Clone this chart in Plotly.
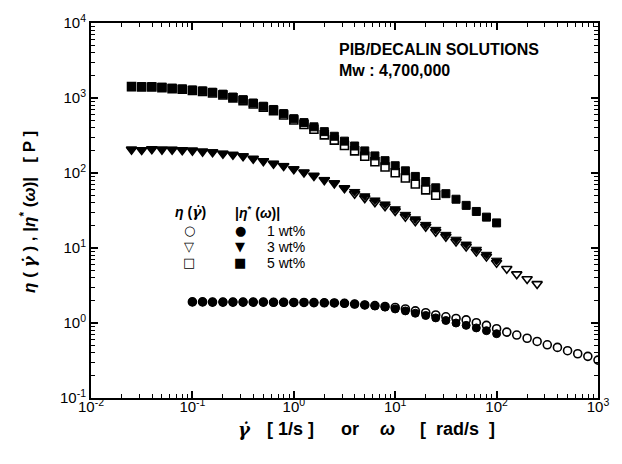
import plotly.graph_objects as go

# shear rate / angular frequency grid (0.1-decade steps), shared by all series
rate_grid = [0.0251, 0.0316, 0.0398, 0.0501, 0.0631, 0.0794, 0.1, 0.126, 0.158, 0.2,
             0.251, 0.316, 0.398, 0.501, 0.631, 0.794, 1.0, 1.26, 1.58, 2.0,
             2.51, 3.16, 3.98, 5.01, 6.31, 7.94, 10, 12.6, 15.8, 20,
             25.1, 31.6, 39.8, 50.1, 63.1, 79.4, 100, 126, 158, 200,
             251, 316, 398, 501, 631, 794, 1000]

# 5 wt%
x_5_dyn = rate_grid[0:37]
eta5_dyn = [1420, 1420, 1420, 1390, 1350, 1320, 1280, 1245, 1195, 1125,
            1030, 950, 858, 777, 703, 620, 530, 470, 413, 356,
            309, 266, 229, 197, 169, 146, 125, 107, 90, 77,
            63.5, 53, 44.7, 37.0, 30.7, 25.8, 21.6]
x_5_ss = rate_grid[0:31]
eta5_ss = [1420, 1400, 1400, 1375, 1334, 1307, 1257, 1220, 1166, 1098,
           1003, 922, 833, 754, 679, 593, 510, 443, 383, 322,
           274, 233, 197, 167, 141, 120.5, 100.6, 85.8, 71.2, 59.5, 50.4]

# 3 wt%
x_3_dyn = rate_grid[0:37]
eta3_dyn = [207, 204, 210, 207, 207, 204, 201, 195, 191, 182,
            176.5, 169, 156.5, 145.6, 134.7, 125.3, 113.4, 102.7, 92.8, 81.5,
            73.8, 63.5, 56.3, 49.3, 43.4, 38.4, 33.1, 27.9, 24.3, 20.5,
            17.6, 15.1, 13.0, 11.2, 9.56, 8.18, 6.83]
x_3_ss = rate_grid[0:41]
eta3_ss = [205, 203, 207, 205, 204, 201, 199, 193, 189, 181,
           175, 167, 155, 144, 133, 124, 112, 101.5, 91.5, 80.5,
           72.8, 62.5, 52.9, 46.3, 40.8, 36.1, 31.1, 26.2, 22.8, 19.3,
           16.5, 14.2, 12.2, 10.5, 8.99, 7.69, 6.35, 5.29, 4.48, 3.86, 3.32]

# 1 wt%
x_1_dyn = rate_grid[6:37]
eta1_dyn = [1.91, 1.91, 1.90, 1.90, 1.90, 1.90, 1.90, 1.90, 1.89, 1.89,
            1.88, 1.88, 1.87, 1.86, 1.85, 1.83, 1.79, 1.74, 1.69, 1.63,
            1.54, 1.45, 1.35, 1.26, 1.17, 1.08, 1.00, 0.93, 0.86, 0.79, 0.72]
x_1_ss = rate_grid[6:47]
eta1_ss = [1.91, 1.91, 1.90, 1.90, 1.90, 1.90, 1.90, 1.90, 1.89, 1.89,
           1.88, 1.88, 1.87, 1.86, 1.85, 1.83, 1.79, 1.74, 1.71, 1.66,
           1.61, 1.54, 1.45, 1.37, 1.28, 1.21, 1.15, 1.10, 1.01, 0.93,
           0.84, 0.756, 0.691, 0.626, 0.567, 0.512, 0.473, 0.427, 0.389, 0.359, 0.320]

x_tickvals = [0.01, 0.1, 1, 10, 100, 1000]
x_ticktext = ["10<sup>-2</sup>", "10<sup>-1</sup>", "10<sup>0</sup>", "10<sup>1</sup>",
              "10<sup>2</sup>", "10<sup>3</sup>"]
y_tickvals = [0.1, 1, 10, 100, 1000, 10000]
y_ticktext = ["10<sup>-1</sup>", "10<sup>0</sup>", "10<sup>1</sup>", "10<sup>2</sup>",
              "10<sup>3</sup>", "10<sup>4</sup>"]

FONT = "Liberation Sans, Arial, sans-serif"
GAMMADOT = "<span style=\"font-family:'DejaVu Serif'\"><i>γ̇</i></span>"

fig = go.Figure()

def open_trace(x, y, sym, size):
    return go.Scatter(x=x, y=y, mode="markers",
                      marker=dict(symbol=sym, size=size, color="white",
                                  line=dict(color="black", width=1.6)))

def filled_trace(x, y, sym, size):
    return go.Scatter(x=x, y=y, mode="markers",
                      marker=dict(symbol=sym, size=size, color="black",
                                  line=dict(color="black", width=1)))

fig.add_trace(open_trace(x_1_ss, eta1_ss, "circle", 8))
fig.add_trace(open_trace(x_3_ss, eta3_ss, "triangle-down", 9))
fig.add_trace(open_trace(x_5_ss, eta5_ss, "square", 8))
fig.add_trace(filled_trace(x_1_dyn, eta1_dyn, "circle", 8))
fig.add_trace(filled_trace(x_3_dyn, eta3_dyn, "triangle-down", 9))
fig.add_trace(filled_trace(x_5_dyn, eta5_dyn, "square", 8))

minor_x = [m * 10 ** e for e in range(-2, 3) for m in range(2, 10)]
minor_y = [m * 10 ** e for e in range(-1, 4) for m in range(2, 10)]

axis_common = dict(type="log", showline=True, linewidth=2, linecolor="black",
                   mirror="ticks", ticks="inside", ticklen=7, tickwidth=1.5,
                   tickcolor="black", showgrid=False, zeroline=False,
                   tickfont=dict(family=FONT, size=15, color="black"))

fig.update_xaxes(range=[-2, 3], tickvals=x_tickvals, ticktext=x_ticktext,
                 ticklabelstandoff=-6,
                 minor=dict(ticks="inside", ticklen=4, tickwidth=1, tickcolor="black",
                            tickvals=minor_x, showgrid=False),
                 **axis_common)
fig.update_yaxes(range=[-1, 4], tickvals=y_tickvals, ticktext=y_ticktext,
                 minor=dict(ticks="inside", ticklen=4, tickwidth=1, tickcolor="black",
                            tickvals=minor_y, showgrid=False),
                 **axis_common)

# plot area geometry helpers (paper coords)
L, R, T, B = 91, 598, 15, 398
def px(xp):
    return (xp - L) / (R - L)
def py(yp):
    return (B - yp) / (B - T)

def note(text, x, y, size, bold=False, xanchor="center", family=FONT, angle=0):
    f = dict(family=family, size=size, color="black")
    if bold:
        f["weight"] = "bold"
    return dict(text=text, x=px(x), y=py(y), xref="paper", yref="paper", showarrow=False,
                xanchor=xanchor, yanchor="middle", textangle=angle, font=f)

ann = []
# x-axis title, in pieces to mimic the wide spacing of the original
TY = 430
ann.append(note(GAMMADOT, 244, TY, 18, bold=True))
ann.append(note("[ 1/s ]", 290, TY, 18, bold=True))
ann.append(note("or", 350, TY, 18, bold=True))
ann.append(note("<i>ω</i>", 387, TY, 18, bold=True))
ann.append(note("[  rad/s  ]", 457, TY, 18, bold=True))
# y-axis title
ann.append(note("<i>η</i> ( " + GAMMADOT + " ) , |<i>η</i><sup>*</sup> (<i>ω</i>)|   [ P ]",
                28, 208, 17, bold=True, angle=-90))
ann.append(note("PIB/DECALIN SOLUTIONS", 337, 42, 16, bold=True, xanchor="left"))
ann.append(note("Mw : 4,700,000", 337, 63.5, 16, bold=True, xanchor="left"))

# legend block
ann.append(note("<i>η</i> (" + GAMMADOT + ")", 190, 208, 14, bold=True))
ann.append(note("|<i>η</i><sup>*</sup> (<i>ω</i>)|", 282, 208, 14, bold=True, xanchor="right"))
legend_rows = [("○", "●", "1 wt%", 227), ("▽", "▼", "3 wt%", 243.5), ("□", "■", "5 wt%", 260)]
for o, f, lab, yy in legend_rows:
    ann.append(note(o, 189, yy, 13, family="DejaVu Sans"))
    ann.append(note(f, 240, yy, 13, family="DejaVu Sans"))
    ann.append(note(lab, 265, yy, 14, xanchor="left"))

fig.update_layout(width=622, height=464, margin=dict(l=L, r=622 - R, t=T, b=464 - B),
                  paper_bgcolor="white", plot_bgcolor="white", showlegend=False,
                  annotations=ann)

fig.write_html("out.html")
